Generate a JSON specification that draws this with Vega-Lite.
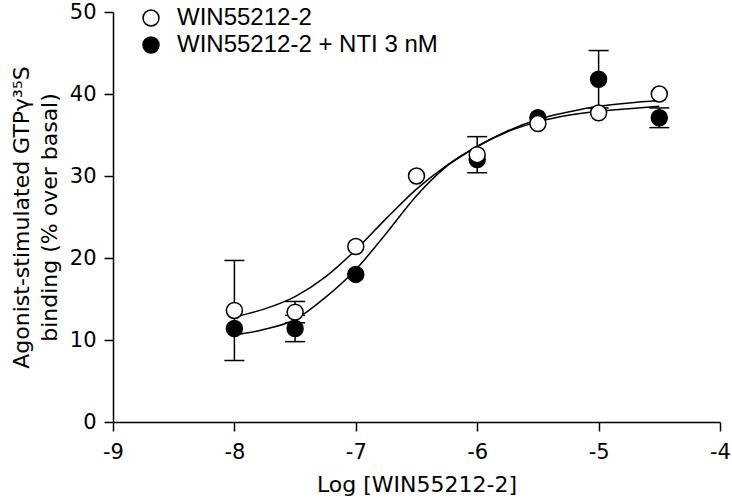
{
  "$schema": "https://vega.github.io/schema/vega-lite/v6.json",
  "width": 607,
  "height": 410,
  "autosize": "none",
  "padding": {"left": 113, "top": 12, "right": 12, "bottom": 80},
  "background": "white",
  "config": {"view": {"stroke": null}, "font": "DejaVu Sans"},
  "datasets": {
    "curve": [
      {"series": "WIN55212-2", "x": -8, "y": 12.8},
      {"series": "WIN55212-2", "x": -7.75, "y": 13.8},
      {"series": "WIN55212-2", "x": -7.5, "y": 15.3},
      {"series": "WIN55212-2", "x": -7.25, "y": 17.7},
      {"series": "WIN55212-2", "x": -7, "y": 21.0},
      {"series": "WIN55212-2", "x": -6.75, "y": 24.8},
      {"series": "WIN55212-2", "x": -6.5, "y": 28.4},
      {"series": "WIN55212-2", "x": -6.25, "y": 31.3},
      {"series": "WIN55212-2", "x": -6, "y": 33.6},
      {"series": "WIN55212-2", "x": -5.75, "y": 35.5},
      {"series": "WIN55212-2", "x": -5.5, "y": 36.9},
      {"series": "WIN55212-2", "x": -5.25, "y": 37.8},
      {"series": "WIN55212-2", "x": -5, "y": 38.5},
      {"series": "WIN55212-2", "x": -4.75, "y": 38.9},
      {"series": "WIN55212-2", "x": -4.5, "y": 39.2},
      {"series": "WIN55212-2 + NTI 3 nM", "x": -8, "y": 10.6},
      {"series": "WIN55212-2 + NTI 3 nM", "x": -7.75, "y": 11.3},
      {"series": "WIN55212-2 + NTI 3 nM", "x": -7.5, "y": 12.5},
      {"series": "WIN55212-2 + NTI 3 nM", "x": -7.25, "y": 15.2},
      {"series": "WIN55212-2 + NTI 3 nM", "x": -7, "y": 18.6},
      {"series": "WIN55212-2 + NTI 3 nM", "x": -6.75, "y": 23.0},
      {"series": "WIN55212-2 + NTI 3 nM", "x": -6.5, "y": 27.6},
      {"series": "WIN55212-2 + NTI 3 nM", "x": -6.25, "y": 31.2},
      {"series": "WIN55212-2 + NTI 3 nM", "x": -6, "y": 33.6},
      {"series": "WIN55212-2 + NTI 3 nM", "x": -5.75, "y": 35.4},
      {"series": "WIN55212-2 + NTI 3 nM", "x": -5.5, "y": 36.6},
      {"series": "WIN55212-2 + NTI 3 nM", "x": -5.25, "y": 37.4},
      {"series": "WIN55212-2 + NTI 3 nM", "x": -5, "y": 37.9},
      {"series": "WIN55212-2 + NTI 3 nM", "x": -4.75, "y": 38.2},
      {"series": "WIN55212-2 + NTI 3 nM", "x": -4.5, "y": 38.5}
    ],
    "err": [
      {"series": "WIN55212-2", "x": -8, "lo": 7.5, "hi": 19.7},
      {"series": "WIN55212-2", "x": -7.5, "lo": 12.1, "hi": 14.7},
      {"series": "WIN55212-2", "x": -6, "lo": 30.4, "hi": 34.8},
      {"series": "WIN55212-2 + NTI 3 nM", "x": -7.5, "lo": 9.8, "hi": 13.0},
      {"series": "WIN55212-2 + NTI 3 nM", "x": -5, "lo": 38.3, "hi": 45.3},
      {"series": "WIN55212-2 + NTI 3 nM", "x": -4.5, "lo": 35.9, "hi": 38.3}
    ],
    "pts": [
      {"series": "WIN55212-2 + NTI 3 nM", "x": -8, "y": 11.4},
      {"series": "WIN55212-2 + NTI 3 nM", "x": -7.5, "y": 11.4},
      {"series": "WIN55212-2 + NTI 3 nM", "x": -7, "y": 18.0},
      {"series": "WIN55212-2 + NTI 3 nM", "x": -6, "y": 32.0},
      {"series": "WIN55212-2 + NTI 3 nM", "x": -5.5, "y": 37.1},
      {"series": "WIN55212-2 + NTI 3 nM", "x": -5, "y": 41.8},
      {"series": "WIN55212-2 + NTI 3 nM", "x": -4.5, "y": 37.1},
      {"series": "WIN55212-2", "x": -8, "y": 13.6},
      {"series": "WIN55212-2", "x": -7.5, "y": 13.4},
      {"series": "WIN55212-2", "x": -7, "y": 21.4},
      {"series": "WIN55212-2", "x": -6.5, "y": 30.0},
      {"series": "WIN55212-2", "x": -6, "y": 32.6},
      {"series": "WIN55212-2", "x": -5.5, "y": 36.4},
      {"series": "WIN55212-2", "x": -5, "y": 37.7},
      {"series": "WIN55212-2", "x": -4.5, "y": 40.0}
    ]
  },
  "encoding": {
    "x": {
      "field": "x",
      "type": "quantitative",
      "scale": {"domain": [-9, -4], "nice": false, "zero": false},
      "axis": {
        "values": [-9, -8, -7, -6, -5, -4],
        "labelExpr": "'' + datum.value",
        "title": "Log [WIN55212-2]",
        "grid": false,
        "domainColor": "black",
        "domainWidth": 1.5,
        "tickColor": "black",
        "tickWidth": 1.5,
        "tickSize": 9,
        "labelFont": "DejaVu Sans",
        "labelFontSize": 21,
        "labelColor": "black",
        "labelPadding": 10,
        "labelFlush": false,
        "labelOverlap": false,
        "titleFont": "DejaVu Sans",
        "titleFontSize": 22,
        "titleFontWeight": "normal",
        "titleColor": "black",
        "titlePadding": 12
      }
    }
  },
  "layer": [
    {
      "data": {"name": "curve"},
      "mark": {"type": "line", "color": "black", "strokeWidth": 1.5, "interpolate": "monotone"},
      "encoding": {
        "y": {
          "field": "y",
          "type": "quantitative",
          "scale": {"domain": [0, 50], "nice": false},
          "axis": {
            "values": [0, 10, 20, 30, 40, 50],
            "title": ["Agonist-stimulated GTPγ³⁵S", "binding (% over basal)"],
            "grid": false,
            "domainColor": "black",
            "domainWidth": 1.5,
            "tickColor": "black",
            "tickWidth": 1.5,
            "tickSize": 9,
            "labelFont": "DejaVu Sans",
            "labelFontSize": 21,
            "labelColor": "black",
            "labelPadding": 8,
            "labelFlush": false,
            "labelOverlap": false,
            "titleFont": "DejaVu Sans",
            "titleFontSize": 22,
            "titleFontWeight": "normal",
            "titleColor": "black",
            "titleLineHeight": 28,
            "titlePadding": 8
          }
        },
        "detail": {"field": "series"}
      }
    },
    {
      "data": {"name": "err"},
      "mark": {"type": "rule", "color": "black", "strokeWidth": 1.5},
      "encoding": {
        "y": {"field": "lo", "type": "quantitative"},
        "y2": {"field": "hi"}
      }
    },
    {
      "data": {"name": "err"},
      "mark": {"type": "tick", "orient": "horizontal", "color": "black", "thickness": 1.5, "size": 20, "opacity": 1},
      "encoding": {"y": {"field": "lo", "type": "quantitative"}}
    },
    {
      "data": {"name": "err"},
      "mark": {"type": "tick", "orient": "horizontal", "color": "black", "thickness": 1.5, "size": 20, "opacity": 1},
      "encoding": {"y": {"field": "hi", "type": "quantitative"}}
    },
    {
      "data": {"name": "pts"},
      "mark": {"type": "circle", "size": 255, "stroke": "black", "strokeWidth": 1.5, "opacity": 1},
      "encoding": {
        "y": {"field": "y", "type": "quantitative"},
        "fill": {
          "field": "series",
          "type": "nominal",
          "scale": {"domain": ["WIN55212-2", "WIN55212-2 + NTI 3 nM"], "range": ["white", "black"]},
          "legend": {
            "orient": "none",
            "legendX": 26,
            "legendY": -6,
            "title": null,
            "labelFont": "Liberation Sans",
            "labelFontSize": 24,
            "labelColor": "black",
            "labelLimit": 400,
            "symbolType": "circle",
            "symbolSize": 255,
            "symbolStrokeColor": "black",
            "symbolStrokeWidth": 1.5,
            "symbolOpacity": 1,
            "labelOffset": 14,
            "rowPadding": 3
          }
        }
      }
    }
  ]
}
